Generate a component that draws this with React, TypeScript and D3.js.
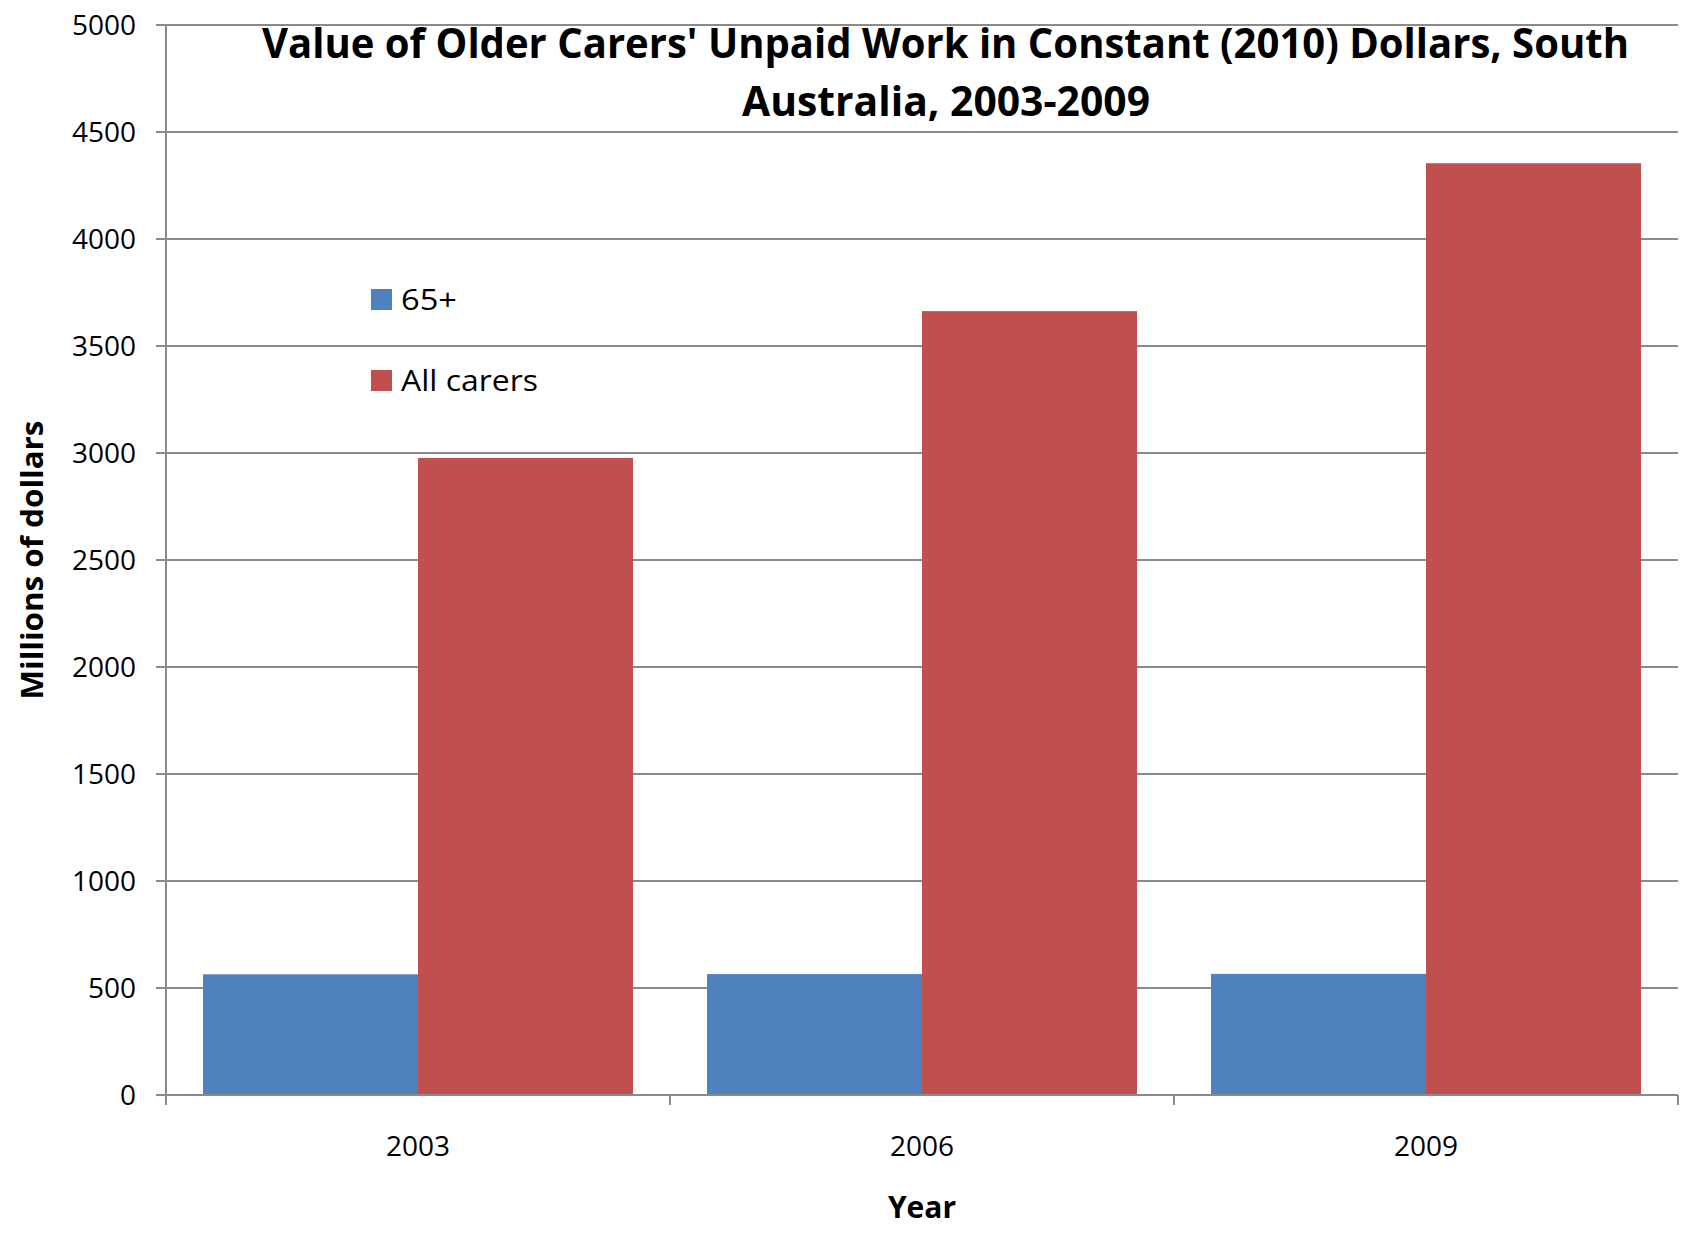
import React from "react";
import * as d3 from "d3";

const categories = ["2003", "2006", "2009"];
const seriesNames = ["65+", "All carers"];
const values65 = [564, 565, 566];
const valuesAll = [2977, 3663, 4354];
const yTicks = [0, 500, 1000, 1500, 2000, 2500, 3000, 3500, 4000, 4500, 5000];
const colors = ["#4F81BD", "#C0504D"];
const titleLines = [
  "Value of Older Carers' Unpaid Work in Constant (2010) Dollars, South",
  "Australia, 2003-2009",
];

const W = 1682;
const H = 1233;
const left = 166;
const right = 1678;
const top = 25;
const bottom = 1095;
const FONT = "'Open Sans', 'DejaVu Sans', sans-serif";
const GRID = "#8a8a8a";

export default function App() {
  const y = d3.scaleLinear().domain([0, 5000]).range([bottom, top]);
  const x = d3
    .scaleBand<string>()
    .domain(categories)
    .range([left, right])
    .paddingInner(0.1468)
    .paddingOuter(0.0734);
  const x1 = d3.scaleBand<string>().domain(seriesNames).range([0, x.bandwidth()]);
  const step = (right - left) / categories.length;
  const series = [values65, valuesAll];
  const legendWidths = [56, 137];

  return (
    <svg
      width={W}
      height={H}
      style={{ position: "absolute", left: 0, top: 0, background: "#fff" }}
      fontFamily={FONT}
    >
      <rect x={0} y={0} width={W} height={H} fill="#fff" />
      {yTicks.map((t) => (
        <g key={t}>
          <line x1={156} x2={right} y1={y(t)} y2={y(t)} stroke={GRID} strokeWidth={2} />
          <text x={136} y={y(t) + 10} fontSize={28} textAnchor="end" fill="#000">
            {t}
          </text>
        </g>
      ))}
      {categories.map((c, i) => (
        <g key={c}>
          {series.map((s, j) => (
            <rect
              key={j}
              x={(x(c) as number) + (x1(seriesNames[j]) as number)}
              y={y(s[i])}
              width={x1.bandwidth()}
              height={y(0) - y(s[i])}
              fill={colors[j]}
            />
          ))}
        </g>
      ))}
      <line x1={left} x2={left} y1={top} y2={bottom + 10} stroke={GRID} strokeWidth={2} />
      <line x1={left} x2={right} y1={bottom} y2={bottom} stroke={GRID} strokeWidth={2} />
      {d3.range(categories.length + 1).map((k) => (
        <line
          key={k}
          x1={left + k * step}
          x2={left + k * step}
          y1={bottom}
          y2={bottom + 10}
          stroke={GRID}
          strokeWidth={2}
        />
      ))}
      {categories.map((c) => (
        <text
          key={c}
          x={(x(c) as number) + x.bandwidth() / 2}
          y={1156}
          fontSize={28}
          textAnchor="middle"
          fill="#000"
        >
          {c}
        </text>
      ))}
      <text x={922} y={1218} fontSize={30} fontWeight="bold" textAnchor="middle" fill="#000">
        Year
      </text>
      <text
        transform="translate(43,560) rotate(-90)"
        fontSize={30}
        fontWeight="bold"
        textAnchor="middle"
        fill="#000"
        textLength={279}
        lengthAdjust="spacingAndGlyphs"
      >
        Millions of dollars
      </text>
      <text
        x={945.5}
        y={58}
        fontSize={41}
        fontWeight="bold"
        textAnchor="middle"
        fill="#000"
        textLength={1367}
        lengthAdjust="spacingAndGlyphs"
      >
        {titleLines[0]}
      </text>
      <text
        x={946}
        y={116}
        fontSize={41}
        fontWeight="bold"
        textAnchor="middle"
        fill="#000"
        textLength={408}
        lengthAdjust="spacingAndGlyphs"
      >
        {titleLines[1]}
      </text>
      {seriesNames.map((n, j) => (
        <g key={n}>
          <rect x={371} y={289 + j * 81} width={21} height={21} fill={colors[j]} />
          <text
            x={401}
            y={310 + j * 81}
            fontSize={30}
            fill="#000"
            textLength={legendWidths[j]}
            lengthAdjust="spacingAndGlyphs"
          >
            {n}
          </text>
        </g>
      ))}
    </svg>
  );
}
